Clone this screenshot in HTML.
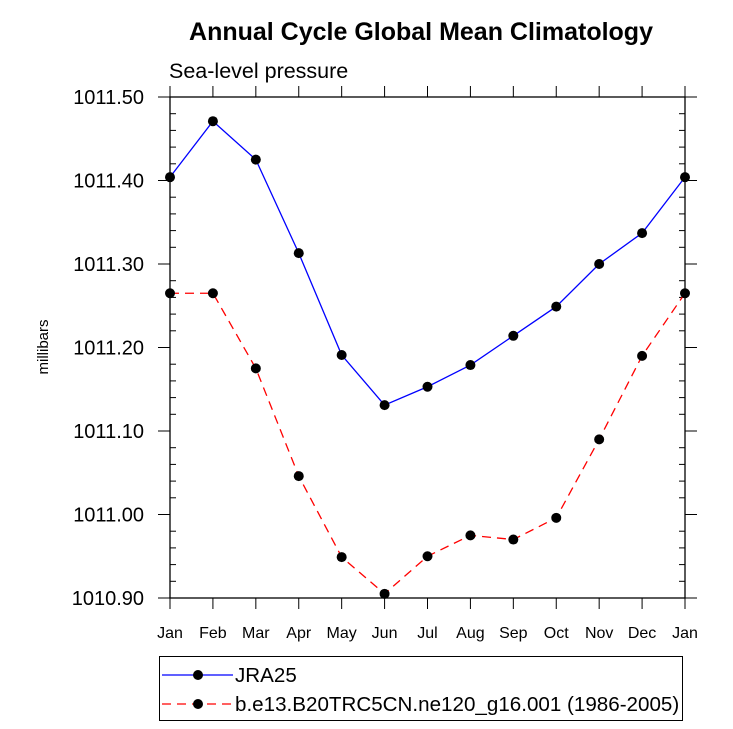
<!DOCTYPE html>
<html><head><meta charset="utf-8"><style>
body{margin:0;background:#fff}
svg{display:block;font-family:"Liberation Sans",sans-serif}
</style></head><body>
<svg id="chart" width="733" height="729" xmlns="http://www.w3.org/2000/svg">
<text x="421" y="40" text-anchor="middle" font-size="25" font-weight="bold">Annual Cycle Global Mean Climatology</text>
<text x="169" y="78" font-size="21.5">Sea-level pressure</text>
<text transform="translate(48,347) rotate(-90)" text-anchor="middle" font-size="15">millibars</text>
<g id="axes"></g>
<g id="series"></g>
<g>
<rect x="159.5" y="656.5" width="523" height="64" fill="none" stroke="#000" stroke-width="1"/>
<g>
<line x1="162" y1="675" x2="233" y2="675" stroke="#0000ff" stroke-width="1.3"/>
<circle cx="198" cy="675" r="5" fill="#000"/>
<text x="235" y="682" font-size="20.6">JRA25</text></g>
<g>
<line x1="162" y1="704" x2="233" y2="704" stroke="#ff0000" stroke-width="1.3" stroke-dasharray="9,6"/>
<circle cx="198" cy="704" r="5" fill="#000"/>
<text x="235" y="711" font-size="20.6">b.e13.B20TRC5CN.ne120_g16.001 (1986-2005)</text></g>
</g>
</svg>
<script>
const months=["Jan","Feb","Mar","Apr","May","Jun","Jul","Aug","Sep","Oct","Nov","Dec","Jan"];
const jra25=[1011.404,1011.471,1011.425,1011.313,1011.191,1011.131,1011.153,1011.179,1011.214,1011.249,1011.300,1011.337,1011.404];
const model=[1011.265,1011.265,1011.175,1011.046,1010.949,1010.905,1010.950,1010.975,1010.970,1010.996,1011.090,1011.190,1011.265];
const yTicks=["1010.90","1011.00","1011.10","1011.20","1011.30","1011.40","1011.50"];
const L=170,R=685,T=97,B=598,YMIN=1010.9,YMAX=1011.5;
const xs=i=>L+i*(R-L)/12;
const ys=v=>B-(v-YMIN)/(YMAX-YMIN)*(B-T);
const NS="http://www.w3.org/2000/svg";
function mk(t,a,p){const e=document.createElementNS(NS,t);for(const k in a)e.setAttribute(k,a[k]);p.appendChild(e);return e;}
const ax=document.getElementById('axes');
const frame=mk('rect',{x:L,y:T,width:R-L,height:B-T,fill:'none',stroke:'#000','stroke-width':1.3},ax);


months.forEach((m,i)=>{const x=xs(i);
 mk('line',{x1:x,y1:B,x2:x,y2:B+11,stroke:'#000','stroke-width':1},ax);
 mk('line',{x1:x,y1:T,x2:x,y2:T-11,stroke:'#000','stroke-width':1},ax);
 const t=mk('text',{x:x,y:B+40,'text-anchor':'middle','font-size':16},ax);t.textContent=m;
 
 
});
yTicks.forEach(s=>{const y=ys(parseFloat(s));
 mk('line',{x1:L-12,y1:y,x2:L,y2:y,stroke:'#000','stroke-width':1},ax);
 mk('line',{x1:R,y1:y,x2:R+12,y2:y,stroke:'#000','stroke-width':1},ax);
 const t=mk('text',{x:L-26,y:y+7,'text-anchor':'end','font-size':20},ax);t.textContent=s;
 
 
});
for(let k=1;k<30;k++){if(k%5===0)continue;const y=ys(YMIN+k*0.02);
 mk('line',{x1:L,y1:y,x2:L+6,y2:y,stroke:'#000','stroke-width':1},ax);
 mk('line',{x1:R-6,y1:y,x2:R,y2:y,stroke:'#000','stroke-width':1},ax);}
const sg=document.getElementById('series');
function draw(arr,col,dash,name){
 const g=mk('g',{},sg);
 
 
 const pl=mk('polyline',{points:arr.map((v,i)=>xs(i)+','+ys(v)).join(' '),fill:'none',stroke:col,'stroke-width':1.3},g);
 if(dash)pl.setAttribute('stroke-dasharray',dash);
 arr.forEach((v,i)=>{const c=mk('circle',{cx:xs(i),cy:ys(v),r:5,fill:'#000'},g);
  
  });
}
draw(jra25,'#0000ff',null,'series-jra25');
draw(model,'#ff0000','9,6','series-model');
</script>
</body></html>
